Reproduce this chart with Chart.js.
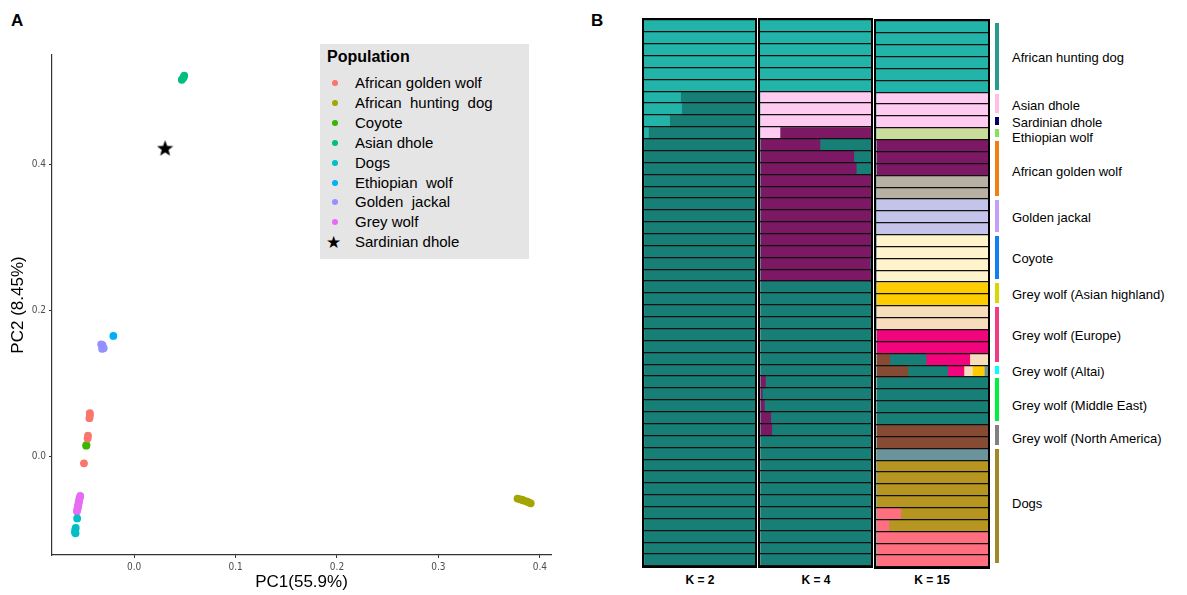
<html>
<head>
<title>PCA and admixture</title>
<meta charset="utf-8" />
<script src="https://cdn.jsdelivr.net/npm/chart.js@4.4.1/dist/chart.umd.min.js"></script>
<style>
  body { margin:0; width:1187px; height:595px; position:relative; overflow:hidden; background:#fff;
         font-family:'Liberation Sans', Arial, sans-serif; color:#000; }
  .abs { position:absolute; }
  .panel { font-weight:bold; font-size:17px; }
  .kbox { position:absolute; border:2.5px solid #000; box-sizing:border-box; }
  .klab { position:absolute; font-weight:bold; font-size:12px; text-align:center; width:116px; top:573px; }
  .glab { position:absolute; left:1012px; font-size:13px; white-space:nowrap; transform:translateY(-50%); }
  .gbar { position:absolute; left:995px; width:4px; }
</style>
<script>
// ---- panel A : PCA ----
const popNames = ['African golden wolf', 'African  hunting  dog', 'Coyote', 'Asian dhole', 'Dogs',
                  'Ethiopian  wolf', 'Golden  jackal', 'Grey wolf', 'Sardinian dhole'];
const popColors = ['#F8766D', '#A3A500', '#39B600', '#00BF7D', '#00BFC4', '#00B0F6', '#9590FF', '#E76BF3', '#000000'];

const pc1 = [
  [-0.0437, -0.0436, -0.0441, -0.0455, -0.0459, -0.0495],
  [0.378, 0.381, 0.383, 0.384, 0.387, 0.389, 0.391],
  [-0.0470, -0.0473],
  [0.0470, 0.0486, 0.0494],
  [-0.0562, -0.0576, -0.0581, -0.0583, -0.0578],
  [-0.0205],
  [-0.0325, -0.0311, -0.0300, -0.0316],
  [-0.0532, -0.0535, -0.0541, -0.0543, -0.0548, -0.0550, -0.0554, -0.0557, -0.0561, -0.0564],
  [0.0305]
];
const pc2 = [
  [0.059, 0.056, 0.052, 0.028, 0.024, -0.010],
  [-0.0585, -0.0596, -0.0604, -0.0612, -0.0624, -0.0636, -0.0650],
  [0.0150, 0.0142],
  [0.5170, 0.5198, 0.5226],
  [-0.0857, -0.0988, -0.1012, -0.1046, -0.1062],
  [0.165],
  [0.1535, 0.1522, 0.1481, 0.1474],
  [-0.0548, -0.0571, -0.0593, -0.0622, -0.0644, -0.0668, -0.0689, -0.0716, -0.0738, -0.0764],
  [0.423]
];

// ---- panel B : admixture (46 individuals) ----
const groupNames = ['African hunting dog', 'Asian dhole', 'Sardinian dhole', 'Ethiopian wolf', 'African golden wolf',
  'Golden jackal', 'Coyote', 'Grey wolf (Asian highland)', 'Grey wolf (Europe)', 'Grey wolf (Altai)',
  'Grey wolf (Middle East)', 'Grey wolf (North America)', 'Dogs'];
const groupSizes = [6, 2, 1, 1, 5, 3, 4, 2, 5, 1, 4, 2, 10];
const groupColors = ['#2a9a8f', '#ffbfe0', '#000066', '#88e060', '#f28010', '#c0a0f8', '#1080f0',
  '#d8d800', '#f03c80', '#00ffff', '#00f040', '#808080', '#a08828'];

// rows grouped as:  AHD(6) | AD(2) | SD | EW | AGW(5) | GJ(3) | Coy(4) | AH(2) | Eu(5) | Al | ME(4) | NA(2) | Dogs(10)
const k2Light = [1,1,1,1,1,1, .33,.34, .23, .04, 0,0,0,0,0, 0,0,0, 0,0,0,0, 0,0, 0,0,0,0,0, 0, 0,0,0,0, 0,0, 0,0,0,0,0,0,0,0,0,0];
const k2Dark  = [0,0,0,0,0,0, .67,.66, .77, .96, 1,1,1,1,1, 1,1,1, 1,1,1,1, 1,1, 1,1,1,1,1, 1, 1,1,1,1, 1,1, 1,1,1,1,1,1,1,1,1,1];

const k4Light  = [1,1,1,1,1,1, 0,0, 0, 0, 0,0,0,0,0, 0,0,0, 0,0,0,0, 0,0, 0,0,0,0,0, 0, 0,0,0,0, 0,0, 0,0,0,0,0,0,0,0,0,0];
const k4Pink   = [0,0,0,0,0,0, 1,1, 1, .18, 0,0,0,0,0, 0,0,0, 0,0,0,0, 0,0, 0,0,0,0,0, 0, 0,0,0,0, 0,0, 0,0,0,0,0,0,0,0,0,0];
const k4Purple = [0,0,0,0,0,0, 0,0, 0, .82, .54,.845,.867,1,1, 1,1,1, 1,1,.99,1, 0,0, 0,0,0,0,0, 0, .05,.02,.04,.097, .106,0, 0,0,0,0,0,0,0,0,0,0];
const k4Dark   = [0,0,0,0,0,0, 0,0, 0, 0, .46,.155,.133,0,0, 0,0,0, 0,0,.01,0, 1,1, 1,1,1,1,1, 1, .95,.98,.96,.903, .894,1, 1,1,1,1,1,1,1,1,1,1];

const k15LightTeal = [1,1,1,1,1,1, 0,0, 0, 0, 0,0,0,0,0, 0,0,0, 0,0,0,0, 0,0, 0,0,0,0,0, 0, 0,0,0,0, 0,0, 0,0,0,0,0,0,0,0,0,0];
const k15Pink      = [0,0,0,0,0,0, 1,1, 1, 0, 0,0,0,0,0, 0,0,0, 0,0,0,0, 0,0, 0,0,0,0,0, 0, 0,0,0,0, 0,0, 0,0,0,0,0,0,0,0,0,0];
const k15PaleGreen = [0,0,0,0,0,0, 0,0, 0, 1, 0,0,0,0,0, 0,0,0, 0,0,0,0, 0,0, 0,0,0,0,0, 0, 0,0,0,0, 0,0, 0,0,0,0,0,0,0,0,0,0];
const k15Purple    = [0,0,0,0,0,0, 0,0, 0, 0, 1,1,1,0,0, 0,0,0, 0,0,0,0, 0,0, 0,0,0,0,0, 0, 0,0,0,0, 0,0, 0,0,0,0,0,0,0,0,0,0];
const k15Tan       = [0,0,0,0,0,0, 0,0, 0, 0, 0,0,0,1,1, 0,0,0, 0,0,0,0, 0,0, 0,0,0,0,0, 0, 0,0,0,0, 0,0, 0,0,0,0,0,0,0,0,0,0];
const k15Lavender  = [0,0,0,0,0,0, 0,0, 0, 0, 0,0,0,0,0, 1,1,1, 0,0,0,0, 0,0, 0,0,0,0,0, 0, 0,0,0,0, 0,0, 0,0,0,0,0,0,0,0,0,0];
const k15Cream     = [0,0,0,0,0,0, 0,0, 0, 0, 0,0,0,0,0, 0,0,0, 1,1,1,1, 0,0, 0,0,0,0,0, 0, 0,0,0,0, 0,0, 0,0,0,0,0,0,0,0,0,0];
const k15Brown     = [0,0,0,0,0,0, 0,0, 0, 0, 0,0,0,0,0, 0,0,0, 0,0,0,0, 0,0, 0,0,0,0,.123, .285, 0,0,0,0, 1,1, 0,0,0,0,0,0,0,0,0,0];
const k15DarkTeal  = [0,0,0,0,0,0, 0,0, 0, 0, 0,0,0,0,0, 0,0,0, 0,0,0,0, 0,0, 0,0,0,0,.325, .355, 1,1,1,1, 0,0, 0,0,0,0,0,0,0,0,0,0];
const k15Magenta   = [0,0,0,0,0,0, 0,0, 0, 0, 0,0,0,0,0, 0,0,0, 0,0,0,0, 0,0, 0,0,1,1,.389, .145, 0,0,0,0, 0,0, 0,0,0,0,0,0,0,0,0,0];
const k15Peach     = [0,0,0,0,0,0, 0,0, 0, 0, 0,0,0,0,0, 0,0,0, 0,0,0,0, 0,0, 1,1,0,0,.163, .076, 0,0,0,0, 0,0, 0,0,0,0,0,0,0,0,0,0];
const k15Yellow    = [0,0,0,0,0,0, 0,0, 0, 0, 0,0,0,0,0, 0,0,0, 0,0,0,0, 1,1, 0,0,0,0,0, .106, 0,0,0,0, 0,0, 0,0,0,0,0,0,0,0,0,0];
const k15GreyBlue  = [0,0,0,0,0,0, 0,0, 0, 0, 0,0,0,0,0, 0,0,0, 0,0,0,0, 0,0, 0,0,0,0,0, .033, 0,0,0,0, 0,0, 1,0,0,0,0,0,0,0,0,0];
const k15Salmon    = [0,0,0,0,0,0, 0,0, 0, 0, 0,0,0,0,0, 0,0,0, 0,0,0,0, 0,0, 0,0,0,0,0, 0, 0,0,0,0, 0,0, 0,0,0,0,0,.22,.115,1,1,1];
const k15Gold      = [0,0,0,0,0,0, 0,0, 0, 0, 0,0,0,0,0, 0,0,0, 0,0,0,0, 0,0, 0,0,0,0,0, 0, 0,0,0,0, 0,0, 0,1,1,1,1,.78,.885,0,0,0];

const kLabels = ['K = 2', 'K = 4', 'K = 15'];
</script>
</head>
<body>
  <div class="abs panel" style="left:11px;top:11px">A</div>
  <div class="abs panel" style="left:591px;top:11px">B</div>

  <div class="abs" style="left:0;top:0;width:590px;height:595px"><canvas id="pcaChart"></canvas></div>
  <div id="legendA" class="abs" style="left:320px;top:44px;width:209px;height:215px;background:#e5e5e5"></div>

  <div class="kbox" style="left:642px;top:18px;width:115px;height:550px"><canvas id="k2Chart"></canvas></div>
  <div class="kbox" style="left:758px;top:18px;width:115px;height:550px"><canvas id="k4Chart"></canvas></div>
  <div class="kbox" style="left:874px;top:19px;width:116px;height:550px"><canvas id="k15Chart"></canvas></div>
  <div id="kLabs"></div>
  <div id="groupLegend"></div>

<script>
  // filled star used for the Sardinian dhole point
  function makeStar(size) {
    const c = document.createElement('canvas');
    c.width = size; c.height = size;
    const ctx = c.getContext('2d');
    ctx.fillStyle = '#000';
    ctx.beginPath();
    for (let i = 0; i < 10; i++) {
      const r = i % 2 === 0 ? size / 2 : size / 2 * 0.42;
      const a = -Math.PI / 2 + i * Math.PI / 5;
      ctx.lineTo(size / 2 + r * Math.cos(a), size / 2 + 0.6 + r * Math.sin(a));
    }
    ctx.closePath();
    ctx.fill();
    return c;
  }
  const starImg = makeStar(17);

  const pcaSets = popNames.map((name, i) => ({
    label: name,
    data: pc1[i].map((x, j) => ({ x: x, y: pc2[i][j] })),
    backgroundColor: popColors[i],
    borderWidth: 0,
    pointRadius: 3.9,
    pointStyle: name === 'Sardinian dhole' ? starImg : 'circle'
  }));

  const tickFont = { family: "'Liberation Sans Narrow','DejaVu Sans Condensed','Liberation Sans'", size: 10 };
  const titleFont = { family: "'Liberation Sans', Arial", size: 17 };

  new Chart(document.getElementById('pcaChart'), {
    type: 'scatter',
    data: { datasets: pcaSets },
    options: {
      responsive: true, maintainAspectRatio: false, animation: false, events: [],
      layout: { padding: { top: 55, right: 39, left: 0, bottom: 0 } },
      plugins: { legend: { display: false }, tooltip: { enabled: false } },
      scales: {
        x: {
          min: -0.081, max: 0.411,
          ticks: { stepSize: 0.1, includeBounds: false, color: '#4d4d4d', font: tickFont, padding: 3,
                   callback: v => Math.abs(v) < 1e-9 ? '0.0' : v.toFixed(1) },
          grid: { drawOnChartArea: false, drawTicks: true, tickLength: 3, color: '#333' },
          border: { display: true, color: '#333', width: 1.2 },
          title: { display: true, text: 'PC1(55.9%)', color: '#000', font: titleFont, padding: { top: 2, bottom: 2 } },
          afterFit: s => { s.height = 40; }
        },
        y: {
          min: -0.136, max: 0.551,
          ticks: { stepSize: 0.2, includeBounds: false, color: '#4d4d4d', font: tickFont, padding: 3,
                   callback: v => Math.abs(v) < 1e-9 ? '0.0' : v.toFixed(1) },
          grid: { drawOnChartArea: false, drawTicks: true, tickLength: 3, color: '#333' },
          border: { display: true, color: '#333', width: 1.2 },
          title: { display: true, text: 'PC2 (8.45%)', color: '#000', font: titleFont, padding: { top: 8, bottom: 2 } },
          afterFit: s => { s.width = 52; }
        }
      }
    }
  });

  // legend of panel A
  const legA = document.getElementById('legendA');
  let html = '<div class="abs" style="left:7px;top:4px;font-weight:bold;font-size:16px">Population</div>';
  popNames.forEach((name, i) => {
    const cy = 39 + i * 19.9;
    const mark = name === 'Sardinian dhole'
      ? '<div class="abs" style="left:6px;top:' + (cy - 10) + 'px;font-size:17px;line-height:20px;font-family:\'DejaVu Sans\'">&#9733;</div>'
      : '<div class="abs" style="left:12px;top:' + (cy - 3) + 'px;width:6px;height:6px;border-radius:50%;background:' + popColors[i] + '"></div>';
    html += mark + '<div class="abs" style="left:35px;top:' + (cy - 10) + 'px;font-size:15px;line-height:20px;white-space:pre">' + name + '</div>';
  });
  legA.innerHTML = html;

  // ---- panel B ----
  const sampleLabels = [];
  groupNames.forEach((g, i) => { for (let k = 0; k < groupSizes[i]; k++) sampleLabels.push(g + ' ' + (k + 1)); });

  function admixChart(id, comps, colors) {
    new Chart(document.getElementById(id), {
      type: 'bar',
      data: {
        labels: sampleLabels,
        datasets: comps.map((d, i) => ({
          data: d, backgroundColor: colors[i], borderWidth: 0, barPercentage: 1, categoryPercentage: 1
        }))
      },
      options: {
        indexAxis: 'y', responsive: true, maintainAspectRatio: false, animation: false, events: [],
        layout: { padding: 0 },
        plugins: { legend: { display: false }, tooltip: { enabled: false } },
        scales: {
          x: { stacked: true, min: 0, max: 1, display: false },
          y: {
            stacked: true,
            ticks: { display: false, autoSkip: false },
            border: { display: false },
            // row separators drawn over the bars
            grid: { offset: true, color: '#111', lineWidth: 1.3, drawTicks: false, z: 1 },
            afterFit: s => { s.width = 0; }
          }
        }
      }
    });
  }

  admixChart('k2Chart', [k2Light, k2Dark], ['#22b4a8', '#187f77']);
  admixChart('k4Chart', [k4Light, k4Pink, k4Purple, k4Dark], ['#22b4a8', '#ffcbf0', '#7d1864', '#187f77']);
  admixChart('k15Chart',
    [k15LightTeal, k15Pink, k15PaleGreen, k15Purple, k15Tan, k15Lavender, k15Cream, k15Brown,
     k15DarkTeal, k15Magenta, k15Peach, k15Yellow, k15GreyBlue, k15Salmon, k15Gold],
    ['#22b4a8', '#ffcbf0', '#cadc9a', '#7d1864', '#b8b0a3', '#c4c4ea', '#fff3cc', '#874a33',
     '#187f77', '#f2047c', '#f8ddbc', '#ffcc00', '#6b939b', '#ff6f80', '#b69621']);

  const kLeft = [642, 758, 874];
  document.getElementById('kLabs').innerHTML = kLabels.map((t, i) =>
    '<div class="klab" style="left:' + kLeft[i] + 'px">' + t + '</div>').join('');

  // group bars and names beside the K = 15 column
  const rowTop = 20.5, rowH = 545 / 46;
  const labelNudge = [0, 1, 0, 3, 1, 0, 0, 0, 0, 0, 4, 2, -4];
  let gh = '', start = 0;
  groupNames.forEach((g, i) => {
    const top = rowTop + start * rowH;
    const h = groupSizes[i] * rowH;
    gh += '<div class="gbar" style="top:' + (top + 2) + 'px;height:' + (h - 4) + 'px;background:' + groupColors[i] + '"></div>';
    gh += '<div class="glab" style="top:' + (top + h / 2 + 1 + labelNudge[i]) + 'px">' + g + '</div>';
    start += groupSizes[i];
  });
  document.getElementById('groupLegend').innerHTML = gh;
</script>
</body>
</html>
